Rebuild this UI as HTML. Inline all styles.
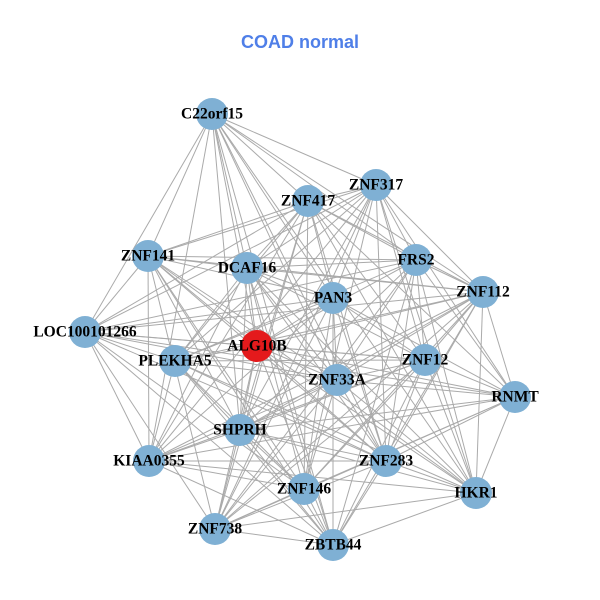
<!DOCTYPE html>
<html><head><meta charset="utf-8"><style>
html,body{margin:0;padding:0;background:#fff;width:600px;height:600px;overflow:hidden}
svg text{font-family:"Liberation Serif",serif;font-weight:bold;font-size:15.5px;text-anchor:middle;dominant-baseline:central}
</style></head><body>
<svg id="s" width="600" height="600" viewBox="0 0 600 600">
<g id="edges" stroke="#aaaaaa" stroke-width="1"></g>
<g id="nodes"></g>
<text x="300" y="42" style="font-family:'Liberation Sans',sans-serif;font-size:18px;fill:#4f7fe8">COAD normal</text>
<g id="labels">
<text x="212" y="114">C22orf15</text>
<text x="376" y="185">ZNF317</text>
<text x="308" y="201">ZNF417</text>
<text x="148" y="256">ZNF141</text>
<text x="247" y="268">DCAF16</text>
<text x="416" y="260">FRS2</text>
<text x="333" y="298">PAN3</text>
<text x="483" y="292">ZNF112</text>
<text x="85" y="332">LOC100101266</text>
<text x="257" y="346">ALG10B</text>
<text x="175" y="361">PLEKHA5</text>
<text x="425" y="360">ZNF12</text>
<text x="337" y="380">ZNF33A</text>
<text x="515" y="397">RNMT</text>
<text x="240" y="430">SHPRH</text>
<text x="149" y="461">KIAA0355</text>
<text x="386" y="461">ZNF283</text>
<text x="304" y="489">ZNF146</text>
<text x="476" y="493">HKR1</text>
<text x="215" y="529">ZNF738</text>
<text x="333" y="545">ZBTB44</text>
</g>
</svg>
<script>
var N=[[212,114],[376,185],[308,201],[148,256],[247,268],[416,260],[333,298],[483,292],[85,332],[257,346],[175,361],[425,360],[337,380],[515,397],[240,430],[149,461],[386,461],[304,489],[476,493],[215,529],[333,545]];
var e=document.getElementById('edges'),n=document.getElementById('nodes'),ns='http://www.w3.org/2000/svg';
for(var i=0;i<N.length;i++)for(var j=i+1;j<N.length;j++){
 var dx=N[i][0]-N[j][0],dy=N[i][1]-N[j][1],d=Math.sqrt(dx*dx+dy*dy);
 var h=(i*31+j*17+i*j*7)%11;
 if(d>380&&h<7)continue;
 if(h==0||h==5)continue;
 var l=document.createElementNS(ns,'line');
 l.setAttribute('x1',N[i][0]);l.setAttribute('y1',N[i][1]);l.setAttribute('x2',N[j][0]);l.setAttribute('y2',N[j][1]);e.appendChild(l);}
for(var i=0;i<N.length;i++){var c=document.createElementNS(ns,'circle');c.setAttribute('cx',N[i][0]);c.setAttribute('cy',N[i][1]);c.setAttribute('r',16);c.setAttribute('fill',i==9?'#e41a1c':'#7fb0d4');n.appendChild(c);}
</script>
</body></html>
